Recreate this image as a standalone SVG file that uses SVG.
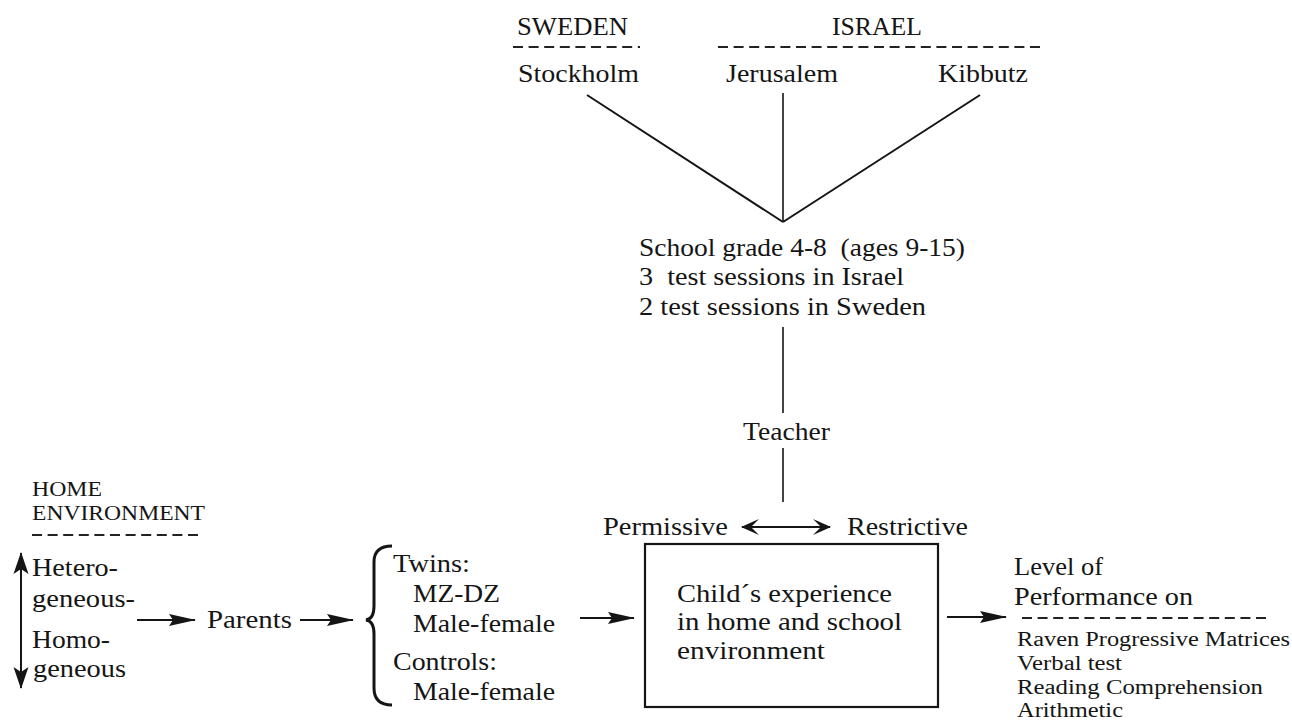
<svg xmlns="http://www.w3.org/2000/svg" width="1292" height="721" viewBox="0 0 1292 721" font-family="'Liberation Serif', 'DejaVu Serif', serif">
<defs>
<style>
text{font-family:"Liberation Serif","DejaVu Serif",serif;fill:#151515;font-size:25px}
.sm{font-size:20px}
.ln{stroke:#151515;stroke-width:2;fill:none}
.thin{stroke:#151515;stroke-width:1.6;fill:none}
.dash{stroke:#222;stroke-width:2;stroke-dasharray:10 5.6;fill:none}
.box{stroke:#151515;stroke-width:2.2;fill:none}
</style>
<marker id="ah" viewBox="0 0 27 13" refX="26" refY="6.5" markerWidth="27" markerHeight="13" markerUnits="userSpaceOnUse" orient="auto">
<path d="M0,0.5 L27,6.5 L0,12.5 L4,6.5 Z" fill="#151515"/>
</marker>
<marker id="ch" viewBox="0 0 18 18" refX="17" refY="9" markerWidth="18" markerHeight="18" markerUnits="userSpaceOnUse" orient="auto-start-reverse">
<path d="M0,1 L18,9 L0,17 L8,9 Z" fill="#151515"/>
</marker>
<marker id="vh" viewBox="0 0 22 16" refX="21" refY="8" markerWidth="22" markerHeight="16" markerUnits="userSpaceOnUse" orient="auto-start-reverse">
<path d="M0,0.5 L22,8 L0,15.5 L5,8 Z" fill="#151515"/>
</marker>
</defs>
<rect width="1292" height="721" fill="#fff"/>

<g id="sweden">
<text x="517" y="35" textLength="111" lengthAdjust="spacingAndGlyphs">SWEDEN</text>
<line class="dash" x1="513" y1="47" x2="640" y2="47"/>
</g>
<g id="israel">
<text x="832" y="35" textLength="90" lengthAdjust="spacingAndGlyphs">ISRAEL</text>
<line class="dash" x1="718" y1="47" x2="1044" y2="47"/>
</g>
<g id="stockholm"><text x="518" y="82" textLength="121" lengthAdjust="spacingAndGlyphs">Stockholm</text></g>
<g id="jerusalem"><text x="726" y="82" textLength="112" lengthAdjust="spacingAndGlyphs">Jerusalem</text></g>
<g id="kibbutz"><text x="938" y="82" textLength="90" lengthAdjust="spacingAndGlyphs">Kibbutz</text></g>

<g id="school">
<text x="639" y="256" textLength="326" lengthAdjust="spacingAndGlyphs" xml:space="preserve">School grade 4-8  (ages 9-15)</text>
<text x="639" y="285" textLength="265" lengthAdjust="spacingAndGlyphs" xml:space="preserve">3  test sessions in Israel</text>
<text x="639" y="315" textLength="287" lengthAdjust="spacingAndGlyphs">2 test sessions in Sweden</text>
</g>

<g id="teacher"><text x="743" y="440" textLength="87" lengthAdjust="spacingAndGlyphs">Teacher</text></g>
<g id="permissive"><text x="603" y="535" textLength="125" lengthAdjust="spacingAndGlyphs">Permissive</text></g>
<g id="restrictive"><text x="847" y="535" textLength="121" lengthAdjust="spacingAndGlyphs">Restrictive</text></g>

<g id="child">
<rect class="box" x="645" y="544" width="293" height="163"/>
<text x="677" y="602" textLength="215" lengthAdjust="spacingAndGlyphs">Child´s experience</text>
<text x="677" y="630" textLength="225" lengthAdjust="spacingAndGlyphs">in home and school</text>
<text x="677" y="659" textLength="148" lengthAdjust="spacingAndGlyphs">environment</text>
</g>

<g id="performance">
<text x="1014" y="575" textLength="89" lengthAdjust="spacingAndGlyphs">Level of</text>
<text x="1014" y="605" textLength="179" lengthAdjust="spacingAndGlyphs">Performance on</text>
<line class="dash" x1="1022" y1="618" x2="1268" y2="618"/>
<text class="sm" x="1017" y="646" textLength="273" lengthAdjust="spacingAndGlyphs">Raven Progressive Matrices</text>
<text class="sm" x="1017" y="670" textLength="105" lengthAdjust="spacingAndGlyphs">Verbal test</text>
<text class="sm" x="1017" y="694" textLength="246" lengthAdjust="spacingAndGlyphs">Reading Comprehension</text>
<text class="sm" x="1017" y="717" textLength="106" lengthAdjust="spacingAndGlyphs">Arithmetic</text>
</g>

<g id="home">
<text class="sm" x="32" y="496" textLength="70" lengthAdjust="spacingAndGlyphs">HOME</text>
<text class="sm" x="32" y="520" textLength="173" lengthAdjust="spacingAndGlyphs">ENVIRONMENT</text>
<line class="dash" x1="32" y1="535" x2="202" y2="535"/>
</g>

<g id="heterogeneity">
<line class="ln" x1="21" y1="553" x2="21" y2="688" marker-start="url(#vh)" marker-end="url(#vh)"/>
<text x="32" y="576" textLength="86" lengthAdjust="spacingAndGlyphs">Hetero-</text>
<text x="32" y="607" textLength="103" lengthAdjust="spacingAndGlyphs">geneous-</text>
<text x="32" y="648" textLength="78" lengthAdjust="spacingAndGlyphs">Homo-</text>
<text x="33" y="677" textLength="93" lengthAdjust="spacingAndGlyphs">geneous</text>
</g>

<g id="parents"><text x="207" y="628" textLength="85" lengthAdjust="spacingAndGlyphs">Parents</text></g>

<g id="groups">
<path d="M392,546 Q374,546 374,562 L374,606 Q374,619 366,620 Q374,621 374,634 L374,688 Q374,705 392,705" stroke="#151515" stroke-width="3" fill="none"/>
<text x="393" y="572" textLength="77" lengthAdjust="spacingAndGlyphs">Twins:</text>
<text x="413" y="602" textLength="87" lengthAdjust="spacingAndGlyphs">MZ-DZ</text>
<text x="413" y="632" textLength="142" lengthAdjust="spacingAndGlyphs">Male-female</text>
<text x="393" y="670" textLength="104" lengthAdjust="spacingAndGlyphs">Controls:</text>
<text x="413" y="700" textLength="142" lengthAdjust="spacingAndGlyphs">Male-female</text>
</g>

<g id="connectors">
<line class="ln" x1="587" y1="95" x2="783" y2="222"/>
<line class="thin" x1="783" y1="93" x2="783" y2="222"/>
<line class="ln" x1="980" y1="95" x2="783" y2="222"/>
<line class="thin" x1="783" y1="327" x2="783" y2="413"/>
<line class="thin" x1="783" y1="448" x2="783" y2="502"/>
<line class="ln" x1="742" y1="527" x2="830" y2="527" marker-start="url(#ch)" marker-end="url(#ch)"/>
<line class="ln" x1="137" y1="620" x2="195" y2="620" marker-end="url(#ah)"/>
<line class="ln" x1="300" y1="620" x2="353" y2="620" marker-end="url(#ah)"/>
<line class="ln" x1="580" y1="618" x2="634" y2="618" marker-end="url(#ah)"/>
<line class="ln" x1="947" y1="617" x2="1006" y2="617" marker-end="url(#ah)"/>
</g>
</svg>
